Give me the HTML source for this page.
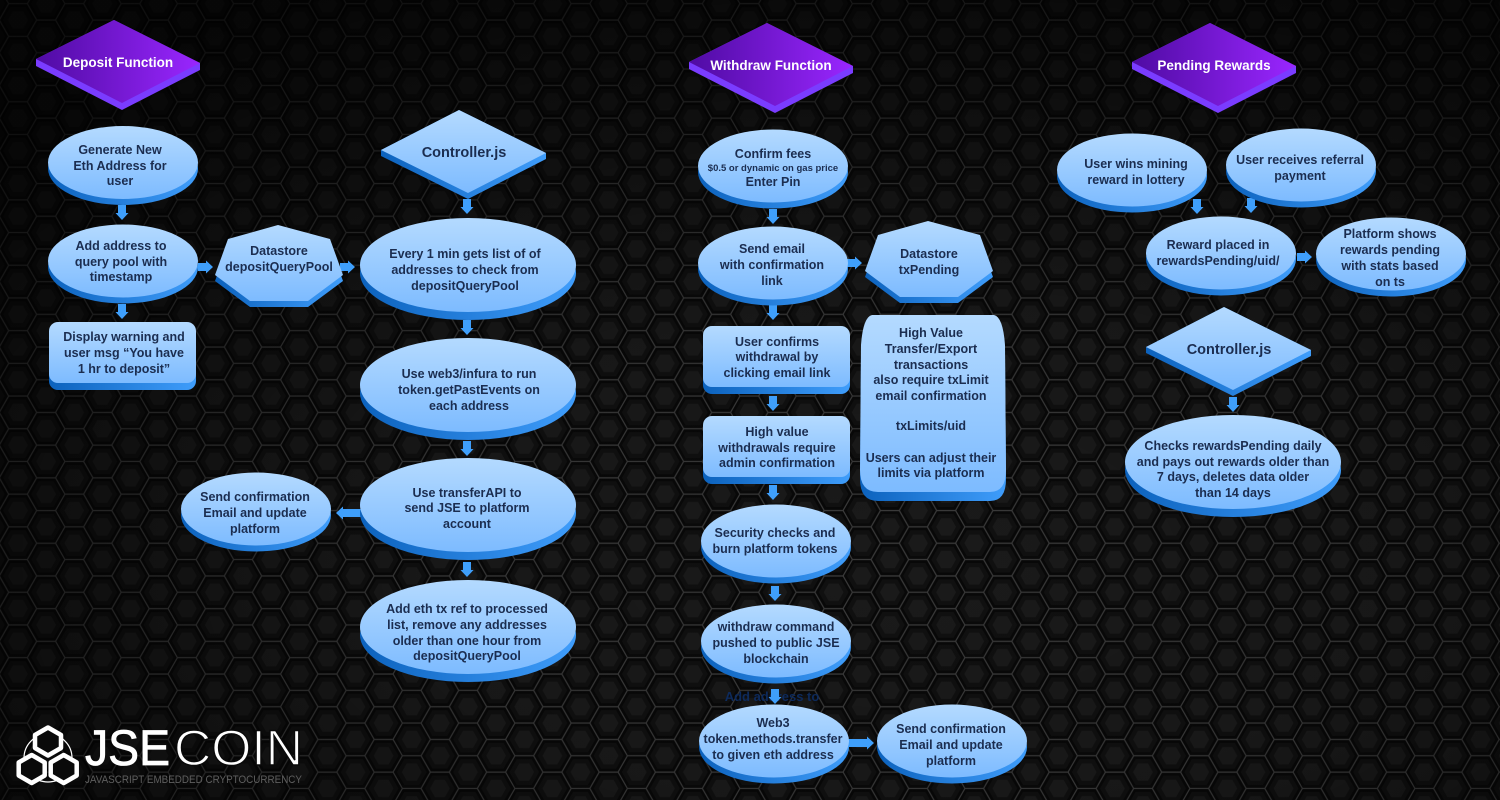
<!DOCTYPE html>
<html><head><meta charset="utf-8"><style>
html,body{margin:0;padding:0;background:#0b0b0b;width:1500px;height:800px;overflow:hidden}
svg{display:block}
.t text{font-family:"Liberation Sans",sans-serif;font-size:12.5px;font-weight:700;fill:#1b2d50;text-anchor:middle}
.h text{font-family:"Liberation Sans",sans-serif;font-size:13.5px;font-weight:700;fill:#fff;text-anchor:middle}
</style></head><body>
<svg width="1500" height="800" viewBox="0 0 1500 800" xmlns="http://www.w3.org/2000/svg">
<defs>
<pattern id="hx" width="57" height="33" patternUnits="userSpaceOnUse" patternTransform="translate(-1.74,0.18) scale(0.98684,0.99091)">
<rect width="57" height="33" fill="#0a0a0a"/>
<g fill="#080808" stroke="#3a3a3a" stroke-width="1.2">
<polygon points="39,20 29.5,36.5 10.5,36.5 1,20 10.5,3.5 29.5,3.5"/>
<polygon points="67.5,36.5 58,53 39,53 29.5,36.5 39,20 58,20"/>
<polygon points="67.5,3.5 58,20 39,20 29.5,3.5 39,-13 58,-13"/>
<polygon points="10.5,36.5 1,53 -18,53 -27.5,36.5 -18,20 1,20"/>
<polygon points="10.5,3.5 1,20 -18,20 -27.5,3.5 -18,-13 1,-13"/>
</g>
<g fill="#101010">
<polygon points="35,20 27.5,33 12.5,33 5,20 12.5,7 27.5,7"/>
<polygon points="63.5,36.5 56,49.5 41,49.5 33.5,36.5 41,23.5 56,23.5"/>
<polygon points="63.5,3.5 56,16.5 41,16.5 33.5,3.5 41,-9.5 56,-9.5"/>
<polygon points="6.5,36.5 -1,49.5 -16,49.5 -23.5,36.5 -16,23.5 -1,23.5"/>
<polygon points="6.5,3.5 -1,16.5 -16,16.5 -23.5,3.5 -16,-9.5 -1,-9.5"/>
</g>
<g fill="#1a1a1a">
<polygon points="30,20 25,28.7 15,28.7 10,20 15,11.3 25,11.3"/>
<polygon points="58.5,36.5 53.5,45.2 43.5,45.2 38.5,36.5 43.5,27.8 53.5,27.8"/>
<polygon points="58.5,3.5 53.5,12.2 43.5,12.2 38.5,3.5 43.5,-5.2 53.5,-5.2"/>
<polygon points="1.5,36.5 -3.5,45.2 -13.5,45.2 -18.5,36.5 -13.5,27.8 -3.5,27.8"/>
<polygon points="1.5,3.5 -3.5,12.2 -13.5,12.2 -18.5,3.5 -13.5,-5.2 -3.5,-5.2"/>
</g>
</pattern>
<radialGradient id="vg" cx=".6" cy=".7" r=".8">
<stop offset="0" stop-color="#000" stop-opacity="0"/><stop offset=".4" stop-color="#000" stop-opacity=".1"/><stop offset="1" stop-color="#000" stop-opacity=".72"/>
</radialGradient>
<linearGradient id="top" x1="0" y1="0" x2="0" y2="1"><stop offset="0" stop-color="#b4daff"/><stop offset="1" stop-color="#7dbbff"/></linearGradient>
<linearGradient id="side" x1="0" y1="0" x2="1" y2="0"><stop offset="0" stop-color="#0c62bd"/><stop offset="1" stop-color="#3f9dfb"/></linearGradient>
<linearGradient id="pur" x1="0" y1="0" x2="1" y2="0"><stop offset="0" stop-color="#4f0ba3"/><stop offset="1" stop-color="#9a26ff"/></linearGradient>
<polygon id="ad" points="-4,-15 4,-15 4,-7 6.5,-7 0,0 -6.5,-7 -4,-7" fill="#3f9ffb"/>
<g id="el"><ellipse cx="0" cy="6" rx="75" ry="36.5" fill="url(#side)"/><ellipse cx="0" cy="0" rx="75" ry="36.5" fill="url(#top)"/></g>
<g id="elb"><ellipse cx="0" cy="8" rx="108" ry="47" fill="url(#side)"/><ellipse cx="0" cy="0" rx="108" ry="47" fill="url(#top)"/></g>
<g id="rr"><rect x="0" y="7" width="147" height="61" rx="9" fill="url(#side)"/><rect x="0" y="0" width="147" height="61" rx="9" fill="url(#top)"/></g>
<g id="dia"><polygon points="0,39 78,0 164,43 164,50 86,90 0,46" fill="#7a3cff"/><polygon points="0,39 78,0 164,43 86,83" fill="url(#pur)"/></g>
<g id="dib"><polygon points="0,46 0,40 78,0 165,43 165,49 87,89" fill="url(#side)"/><polygon points="0,40 78,0 165,43 87,83" fill="url(#top)"/></g>
<g id="hp"><polygon points="63,6 115,20 128,56 93,82 35,82 0,56 13,20" fill="url(#side)"/><polygon points="63,0 115,14 128,50 93,76 35,76 0,50 13,14" fill="url(#top)"/></g>
</defs>
<rect width="1500" height="800" fill="url(#hx)"/>
<rect width="1500" height="800" fill="url(#vg)"/>

<!-- header diamonds -->
<use href="#dia" x="36" y="20"/>
<use href="#dia" x="689" y="23"/>
<use href="#dia" x="1132" y="23"/>
<g class="h">
<text x="118" y="67">Deposit Function</text>
<text x="771" y="70">Withdraw Function</text>
<text x="1214" y="70">Pending Rewards</text>
</g>

<!-- arrows -->
<use href="#ad" x="122" y="220"/>
<use href="#ad" x="122" y="319"/>
<use href="#ad" transform="translate(213,267) rotate(-90)"/>
<use href="#ad" transform="translate(355,267) rotate(-90)"/>
<use href="#ad" x="467" y="214"/>
<use href="#ad" x="467" y="335"/>
<use href="#ad" x="467" y="456"/>
<use href="#ad" x="467" y="577"/>
<use href="#ad" transform="translate(336,513) rotate(90)"/>
<rect x="345" y="509" width="18" height="8" fill="#3f9ffb"/>
<use href="#ad" x="773" y="224"/>
<use href="#ad" x="773" y="320"/>
<use href="#ad" x="773" y="411"/>
<use href="#ad" x="773" y="500"/>
<use href="#ad" x="775" y="601"/>
<text x="772" y="701" font-family="Liberation Sans,sans-serif" font-size="13" font-weight="700" fill="#0d2a5c" text-anchor="middle">Add address to</text>
<use href="#ad" x="775" y="704"/>
<use href="#ad" transform="translate(862,263) rotate(-90)"/>
<use href="#ad" transform="translate(874,743) rotate(-90)"/>
<rect x="846" y="739" width="16" height="8" fill="#3f9ffb"/>
<use href="#ad" x="1197" y="214"/>
<use href="#ad" x="1251" y="213"/>
<use href="#ad" transform="translate(1312,257) rotate(-90)"/>
<use href="#ad" x="1233" y="412"/>

<!-- deposit column -->
<use href="#el" x="123" y="162.5"/>
<use href="#el" x="123" y="261"/>
<use href="#rr" x="49" y="322"/>
<use href="#hp" x="215" y="225"/>
<use href="#dib" x="381" y="110"/>
<use href="#elb" x="468" y="265"/>
<use href="#elb" x="468" y="385"/>
<use href="#elb" x="468" y="505"/>
<use href="#elb" x="468" y="627"/>
<use href="#el" x="256" y="509"/>

<!-- withdraw column -->
<use href="#el" x="773" y="166"/>
<use href="#el" x="773" y="263"/>
<use href="#hp" x="865" y="221"/>
<use href="#rr" x="703" y="326"/>
<use href="#rr" x="703" y="416"/>
<path d="M872,324 H994 Q1003,326 1005,354 L1006,479 Q1006,501 990,501 H878 Q860,501 860,479 L861,354 Q863,326 872,324Z" fill="url(#side)"/>
<path d="M872,315 H994 Q1003,317 1005,345 L1006,470 Q1006,492 990,492 H878 Q860,492 860,470 L861,345 Q863,317 872,315Z" fill="url(#top)"/>
<use href="#el" x="776" y="541"/>
<use href="#el" x="776" y="641"/>
<use href="#el" x="774" y="741"/>
<use href="#el" x="952" y="741"/>

<!-- rewards column -->
<use href="#el" x="1132" y="170"/>
<use href="#el" x="1301" y="165"/>
<use href="#el" x="1221" y="253"/>
<use href="#el" x="1391" y="254"/>
<use href="#dib" x="1146" y="307"/>
<use href="#elb" x="1233" y="462"/>

<g class="t">
<text x="120" y="154">Generate New</text><text x="120" y="170">Eth Address for</text><text x="120" y="185">user</text>
<text x="121" y="250">Add address to</text><text x="121" y="266">query pool with</text><text x="121" y="281">timestamp</text>
<text x="124" y="341">Display warning and</text><text x="124" y="357">user msg “You have</text><text x="124" y="373">1 hr to deposit”</text>
<text x="279" y="255">Datastore</text><text x="279" y="271">depositQueryPool</text>
<text x="464" y="157" style="font-size:14.5px">Controller.js</text>
<text x="465" y="258">Every 1 min gets list of of</text><text x="465" y="274">addresses to check from</text><text x="465" y="290">depositQueryPool</text>
<text x="469" y="378">Use web3/infura to run</text><text x="469" y="394">token.getPastEvents on</text><text x="469" y="410">each address</text>
<text x="467" y="497">Use transferAPI to</text><text x="467" y="512">send JSE to platform</text><text x="467" y="528">account</text>
<text x="467" y="613">Add eth tx ref to processed</text><text x="467" y="629">list, remove any addresses</text><text x="467" y="645">older than one hour from</text><text x="467" y="660">depositQueryPool</text>
<text x="255" y="501">Send confirmation</text><text x="255" y="517">Email and update</text><text x="255" y="533">platform</text>

<text x="773" y="158">Confirm fees</text><text x="773" y="171" style="font-size:9.5px">$0.5 or dynamic on gas price</text><text x="773" y="186">Enter Pin</text>
<text x="772" y="253">Send email</text><text x="772" y="269">with confirmation</text><text x="772" y="285">link</text>
<text x="777" y="346">User confirms</text><text x="777" y="361">withdrawal by</text><text x="777" y="377">clicking email link</text>
<text x="777" y="436">High value</text><text x="777" y="452">withdrawals require</text><text x="777" y="467">admin confirmation</text>
<text x="775" y="537">Security checks and</text><text x="775" y="553">burn platform tokens</text>
<text x="776" y="631">withdraw command</text><text x="776" y="647">pushed to public JSE</text><text x="776" y="663">blockchain</text>
<text x="773" y="727">Web3</text><text x="773" y="743">token.methods.transfer</text><text x="773" y="759">to given eth address</text>
<text x="951" y="733">Send confirmation</text><text x="951" y="749">Email and update</text><text x="951" y="765">platform</text>
<text x="929" y="258">Datastore</text><text x="929" y="274">txPending</text>
<text x="931" y="337">High Value</text><text x="931" y="353">Transfer/Export</text><text x="931" y="369">transactions</text><text x="931" y="384">also require txLimit</text><text x="931" y="400">email confirmation</text><text x="931" y="430">txLimits/uid</text><text x="931" y="462">Users can adjust their</text><text x="931" y="477">limits via platform</text>

<text x="1136" y="168">User wins mining</text><text x="1136" y="184">reward in lottery</text>
<text x="1300" y="164">User receives referral</text><text x="1300" y="180">payment</text>
<text x="1218" y="249">Reward placed in</text><text x="1218" y="265">rewardsPending/uid/</text>
<text x="1390" y="238">Platform shows</text><text x="1390" y="254">rewards pending</text><text x="1390" y="270">with stats based</text><text x="1390" y="286">on ts</text>
<text x="1229" y="354" style="font-size:14.5px">Controller.js</text>
<text x="1233" y="450">Checks rewardsPending daily</text><text x="1233" y="466">and pays out rewards older than</text><text x="1233" y="481">7 days, deletes data older</text><text x="1233" y="497">than 14 days</text>
</g>

<!-- logo -->
<circle cx="48" cy="758" r="24" fill="none" stroke="#fff" stroke-width="1.2"/>
<g fill="#0a0a0a" stroke="#fff" stroke-width="4.5" stroke-linejoin="round">
<polygon points="48,727.5 61,735 61,748 48,755.5 35,748 35,735"/>
<polygon points="31.7,755 44.7,762.5 44.7,775.5 31.7,783 18.7,775.5 18.7,762.5"/>
<polygon points="63.7,755 76.7,762.5 76.7,775.5 63.7,783 50.7,775.5 50.7,762.5"/>
</g>
<text x="85" y="765" font-family="Liberation Sans,sans-serif" font-size="50" fill="#fff" stroke="#fff" stroke-width=".8" textLength="85" lengthAdjust="spacingAndGlyphs">JSE</text>
<text x="174" y="765" font-family="Liberation Sans,sans-serif" font-size="50" fill="#fff" stroke="#0a0a0a" stroke-width="1.4" textLength="129" lengthAdjust="spacingAndGlyphs">COIN</text>
<text x="85" y="783" font-family="Liberation Sans,sans-serif" font-size="11" fill="#5f5f5f" textLength="217" lengthAdjust="spacingAndGlyphs">JAVASCRIPT EMBEDDED CRYPTOCURRENCY</text>
</svg>
</body></html>
